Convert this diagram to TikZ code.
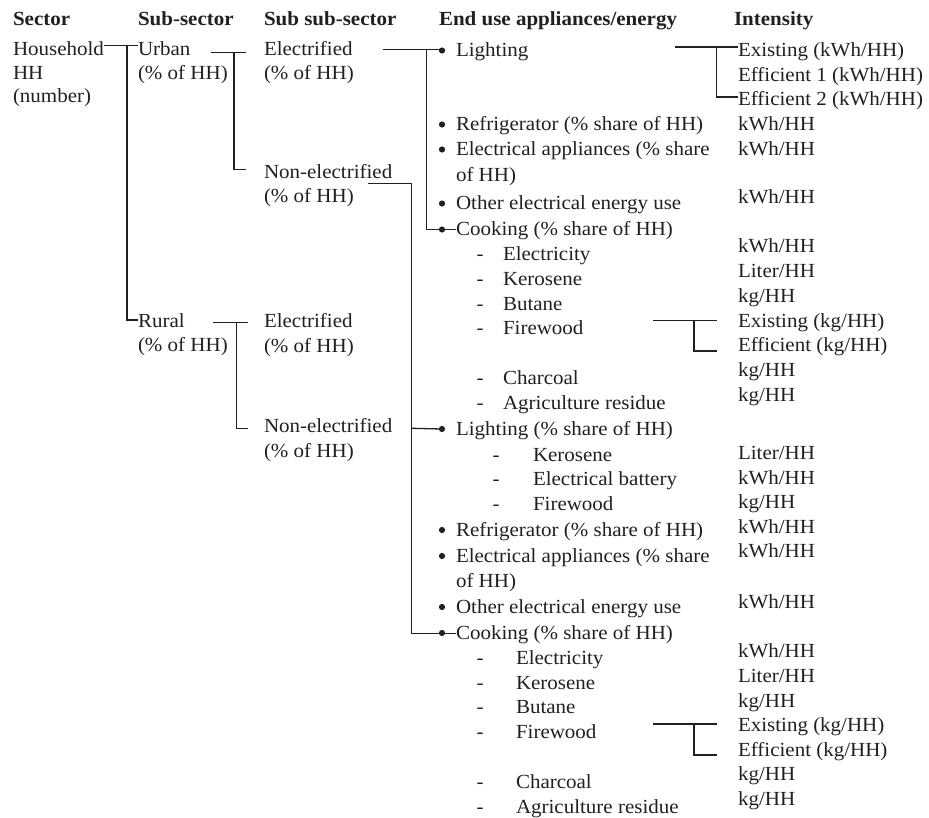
\documentclass[tikz,border=0pt]{standalone}
\usepackage{fontspec}
\setmainfont{Liberation Serif}[FakeStretch=1.05]
\definecolor{ink}{HTML}{231F20}
\begin{document}
\begin{tikzpicture}[x=1pt,y=-1pt,
  txt/.style={anchor=base west,inner sep=0pt,outer sep=0pt,text=ink,font=\fontsize{20}{24}\selectfont},
  hdr/.style={txt,font=\fontsize{20}{24}\selectfont\bfseries},
  dsh/.style={anchor=base,inner sep=0pt,outer sep=0pt,text=ink,font=\fontsize{20}{24}\selectfont},
  conn/.style={draw=ink,line width=1.3pt},
  blt/.style={fill=ink}]
\useasboundingbox (0,0) rectangle (929,817);
% headers
\node[hdr] (hA) at (13,25.5) {Sector};
\node[hdr] (hB) at (138,25.5) {Sub-sector};
\node[hdr] (hC) at (264,25.5) {Sub sub-sector};
\node[hdr] (hD) at (439,25.5) {End use appliances/energy};
\node[hdr] (hE) at (734,25.5) {Intensity};
% column 1
\node[txt] (hh) at (13,55.7) {Household};
\node[txt] (hh2) at (13,79.2) {HH};
\node[txt] (hh3) at (13,102.7) {(number)};
% column 2
\node[txt] (ur) at (138,55.7) {Urban};
\node[txt] (ur2) at (138,79.2) {(\% of HH)};
\node[txt] (ru) at (138,327.7) {Rural};
\node[txt] (ru2) at (138,351.7) {(\% of HH)};
% column 3
\node[txt] (ue) at (264,55.7) {Electrified};
\node[txt] (ue2) at (264,79.2) {(\% of HH)};
\node[txt] (un) at (264,178.3) {Non-electrified};
\node[txt] (un2) at (264,202.5) {(\% of HH)};
\node[txt] (re) at (264,327.7) {Electrified};
\node[txt] (re2) at (264,352) {(\% of HH)};
\node[txt] (rn) at (264,432.7) {Non-electrified};
\node[txt] (rn2) at (264,457) {(\% of HH)};
% column 4 urban
\node[txt] (a1) at (456,56.5) {Lighting};
\node[txt] (a2) at (456,130.5) {Refrigerator (\% share of HH)};
\node[txt] (a3) at (456,155.5) {Electrical appliances (\% share};
\node[txt] (a3b) at (456,181) {of HH)};
\node[txt] (a4) at (456,209.5) {Other electrical energy use};
\node[txt] (a5) at (456,235.5) {Cooking (\% share of HH)};
\foreach \t/\y/\n in {Electricity/260.5/1,Kerosene/285.3/2,Butane/310/3,Firewood/334.8/4,Charcoal/384.3/5,Agriculture residue/409/6}{
  \node[dsh] (ad\n) at (480,\y) {-};
  \node[txt] (ac\n) at (503,\y) {\t};
}
% column 4 rural
\node[txt] (b1) at (456,435) {Lighting (\% share of HH)};
\foreach \t/\y/\n in {Kerosene/461/1,Electrical battery/485.5/2,Firewood/510/3}{
  \node[dsh] (bd\n) at (496,\y) {-};
  \node[txt] (bl\n) at (533,\y) {\t};
}
\node[txt] (b2) at (456,536) {Refrigerator (\% share of HH)};
\node[txt] (b3) at (456,562) {Electrical appliances (\% share};
\node[txt] (b3b) at (456,587) {of HH)};
\node[txt] (b4) at (456,613) {Other electrical energy use};
\node[txt] (b5) at (456,639) {Cooking (\% share of HH)};
\foreach \t/\y/\n in {Electricity/664/1,Kerosene/689/2,Butane/713.5/3,Firewood/738.3/4,Charcoal/788/5,Agriculture residue/813/6}{
  \node[dsh] (bd\n) at (480,\y) {-};
  \node[txt] (bc\n) at (516,\y) {\t};
}
% column 5
\node[txt] (i1) at (738,56.5) {Existing (kWh/HH)};
\node[txt] (i2) at (738,81) {Efficient 1 (kWh/HH)};
\node[txt] (i3) at (738,105.5) {Efficient 2 (kWh/HH)};
\node[txt] (i4) at (738,130.5) {kWh/HH};
\node[txt] (i5) at (738,155) {kWh/HH};
\node[txt] (i6) at (738,203.5) {kWh/HH};
\node[txt] (i7) at (738,252.5) {kWh/HH};
\node[txt] (i8) at (738,277) {Liter/HH};
\node[txt] (i9) at (738,302) {kg/HH};
\node[txt] (i10) at (738,327) {Existing (kg/HH)};
\node[txt] (i11) at (738,351.5) {Efficient (kg/HH)};
\node[txt] (i12) at (738,376) {kg/HH};
\node[txt] (i13) at (738,401) {kg/HH};
\node[txt] (j1) at (738,459) {Liter/HH};
\node[txt] (j2) at (738,484) {kWh/HH};
\node[txt] (j3) at (738,508.5) {kg/HH};
\node[txt] (j4) at (738,533) {kWh/HH};
\node[txt] (j5) at (738,557.7) {kWh/HH};
\node[txt] (j6) at (738,608) {kWh/HH};
\node[txt] (j7) at (738,657.5) {kWh/HH};
\node[txt] (j8) at (738,682) {Liter/HH};
\node[txt] (j9) at (738,707) {kg/HH};
\node[txt] (j10) at (738,731.5) {Existing (kg/HH)};
\node[txt] (j11) at (738,756) {Efficient (kg/HH)};
\node[txt] (j12) at (738,780.5) {kg/HH};
\node[txt] (j13) at (738,805) {kg/HH};
% junction coordinates
\coordinate (k1) at (127,45.3);
\coordinate (k1b) at (127,320);
\coordinate (k2) at (234,52.3);
\coordinate (k2b) at (234,169.5);
\coordinate (k3) at (236.7,322.3);
\coordinate (k3b) at (236.7,428.3);
\coordinate (k4) at (426.7,49.5);
\coordinate (k4b) at (426.7,229.3);
\coordinate (k5) at (411.7,183.3);
\coordinate (k5m) at (411.7,428.3);
\coordinate (k5b) at (411.7,633.3);
\coordinate (k6) at (716.7,47);
\coordinate (k6b) at (716.7,97);
\coordinate (k7) at (694,320.7);
\coordinate (k7b) at (694,351);
\coordinate (k8) at (694,724);
\coordinate (k8b) at (694,755);
% bullets
\foreach \n/\y in {p1/50.5,p2/124.5,p3/149.5,p4/203.5,p5/229.5,q1/429,q2/530,q3/556,q4/607,q5/633}{
  \fill[blt] (442,\y) circle (3.1) coordinate (\n);
}
% connectors
\draw[conn] (hh.east |- k1) -- (ur.west |- k1);
\draw[conn] (k1) -- (k1b) -- (ru.west |- k1b);
\draw[conn] (211,52.3) -- (246,52.3);
\draw[conn] (k2) -- (k2b) -- (246,169.5);
\draw[conn] (213,322.3) -- (248,322.3);
\draw[conn] (k3) -- (k3b) -- (248,428.3);
\draw[conn] (383,49.5) -- (p1 |- k4);
\draw[conn] (k4) -- (k4b) -- (a5.west |- k4b);
\draw[conn] (368,183.3) -- (k5) -- (k5b) -- (b5.west |- k5b);
\draw[conn] (k5m) -- (q1);
\draw[conn] (675,47) -- (i1.west |- k6);
\draw[conn] (k6) -- (k6b) -- (i3.west |- k6b);
\draw[conn] (653,320.7) -- (716.7,320.7);
\draw[conn] (k7) -- (k7b) -- (716.7,351);
\draw[conn] (653,724) -- (716.7,724);
\draw[conn] (k8) -- (k8b) -- (716.7,755);
\end{tikzpicture}
\end{document}
